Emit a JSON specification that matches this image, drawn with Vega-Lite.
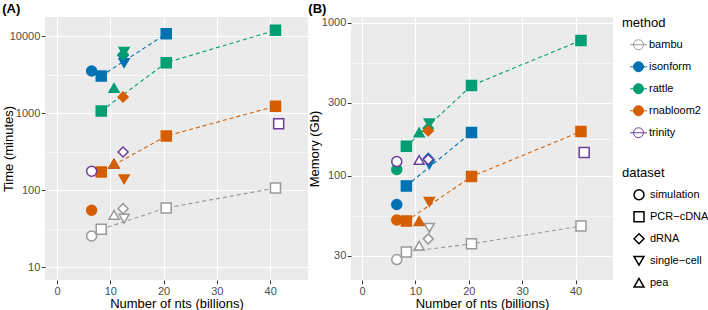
{
  "$schema": "https://vega.github.io/schema/vega-lite/v6.json",
  "padding": {"left": 2, "top": 2, "right": 0, "bottom": 0},
  "datasets": {
    "d": [
      {"method": "bambu", "dataset": "simulation", "nts": 6.5, "time": 25.5, "memory": 28.4},
      {"method": "bambu", "dataset": "PCR-cDNA", "nts": 8.3, "time": 31.2, "memory": 31.9},
      {"method": "bambu", "dataset": "PCR-cDNA", "nts": 20.5, "time": 59, "memory": 36},
      {"method": "bambu", "dataset": "PCR-cDNA", "nts": 41.0, "time": 107, "memory": 47},
      {"method": "bambu", "dataset": "dRNA", "nts": 12.4, "time": 57.7, "memory": 38.8},
      {"method": "bambu", "dataset": "single-cell", "nts": 12.6, "time": 42.8, "memory": 45.8},
      {"method": "bambu", "dataset": "pea", "nts": 10.7, "time": 48, "memory": 35},
      {"method": "isonform", "dataset": "simulation", "nts": 6.5, "time": 3540, "memory": 65},
      {"method": "isonform", "dataset": "PCR-cDNA", "nts": 8.3, "time": 3050, "memory": 86},
      {"method": "isonform", "dataset": "PCR-cDNA", "nts": 20.5, "time": 10800, "memory": 192},
      {"method": "isonform", "dataset": "dRNA", "nts": 12.4, "time": 5660, "memory": 130},
      {"method": "isonform", "dataset": "single-cell", "nts": 12.6, "time": 4500, "memory": 119},
      {"method": "rattle", "dataset": "simulation", "nts": 6.5, "time": null, "memory": 110},
      {"method": "rattle", "dataset": "PCR-cDNA", "nts": 8.3, "time": 1070, "memory": 156},
      {"method": "rattle", "dataset": "PCR-cDNA", "nts": 20.5, "time": 4540, "memory": 389},
      {"method": "rattle", "dataset": "PCR-cDNA", "nts": 41.0, "time": 11970, "memory": 767},
      {"method": "rattle", "dataset": "dRNA", "nts": 12.4, "time": 5800, "memory": 205},
      {"method": "rattle", "dataset": "single-cell", "nts": 12.6, "time": 6300, "memory": 220},
      {"method": "rattle", "dataset": "pea", "nts": 10.7, "time": 2130, "memory": 192},
      {"method": "rnabloom2", "dataset": "simulation", "nts": 6.5, "time": 55, "memory": 51.5},
      {"method": "rnabloom2", "dataset": "PCR-cDNA", "nts": 8.3, "time": 173, "memory": 50.7},
      {"method": "rnabloom2", "dataset": "PCR-cDNA", "nts": 20.5, "time": 507, "memory": 99},
      {"method": "rnabloom2", "dataset": "PCR-cDNA", "nts": 41.0, "time": 1234, "memory": 195},
      {"method": "rnabloom2", "dataset": "dRNA", "nts": 12.4, "time": 1630, "memory": 197},
      {"method": "rnabloom2", "dataset": "single-cell", "nts": 12.6, "time": 139, "memory": 67.6},
      {"method": "trinity", "dataset": "simulation", "nts": 6.5, "time": 177, "memory": 124},
      {"method": "trinity", "dataset": "PCR-cDNA", "nts": 41.6, "time": 733, "memory": 142},
      {"method": "trinity", "dataset": "dRNA", "nts": 12.4, "time": 314, "memory": 128},
      {"method": "trinity", "dataset": "pea", "nts": 10.7, "time": 221, "memory": 127},
      {"method": "rnabloom2", "dataset": "pea", "nts": 10.7, "time": 221, "memory": 50.7}
    ]
  },
  "config": {
    "font": "Liberation Sans",
    "view": {"fill": "#EBEBEB", "stroke": null},
    "axis": {"domain": false, "gridColor": "white", "tickColor": "#333333", "tickSize": 3.7, "labelColor": "#4D4D4D", "labelFontSize": 11, "labelPadding": 1.5, "titleFontSize": 13, "titleFontWeight": "normal", "titleColor": "black"},
    "legend": {"titleFontSize": 13, "titleFontWeight": "normal", "labelFontSize": 11, "titleColor": "black", "labelColor": "black"},
    "title": {"fontSize": 13, "fontWeight": "bold", "anchor": "start", "frame": "bounds", "offset": 1, "color": "black"}
  },
  "spacing": 0,
  "hconcat": [
    {
      "title": {"text": "(A)"},
      "width": 263,
      "height": 263,
      "data": {"name": "d"},
      "layer": [
        {
          "transform": [{"filter": "datum.dataset === 'PCR-cDNA'"}],
          "mark": {"type": "line", "strokeDash": [4, 3], "strokeWidth": 1.1},
          "encoding": {
            "x": {"field": "nts", "type": "quantitative", "scale": {"domain": [-2.25, 47.1], "nice": false, "zero": false}},
            "y": {"field": "time", "type": "quantitative", "scale": {"type": "log", "domain": [6.84, 17800], "nice": false}},
            "stroke": {"field": "method", "type": "nominal", "scale": {"domain": ["bambu", "isonform", "rattle", "rnabloom2", "trinity"], "range": ["#999999", "#0072B2", "#009E73", "#D55E00", "#6A3D9A"]}},
            "order": {"field": "nts", "type": "quantitative"}
          }
        },
        {
          "mark": {"type": "point", "size": 100, "strokeWidth": 1.5, "opacity": 1},
          "encoding": {
            "x": {"field": "nts", "type": "quantitative", "title": "Number of nts (billions)",
              "axis": {"values": [0, 5, 10, 15, 20, 25, 30, 35, 40, 45], "labelExpr": "datum.value % 10 === 0 ? datum.label : ''", "tickOpacity": {"condition": {"test": "datum.value % 10 === 0", "value": 1}, "value": 0}, "gridWidth": {"condition": {"test": "datum.value % 10 === 0", "value": 1.1}, "value": 0.5}, "titlePadding": 1.5}},
            "y": {"field": "time", "type": "quantitative", "title": "Time (minutes)",
              "axis": {"values": [10, 31.62, 100, 316.2, 1000, 3162, 10000], "format": "d", "labelExpr": "indexof([10, 100, 1000, 10000], datum.value) >= 0 ? datum.label : ''", "tickOpacity": {"condition": {"test": "indexof([10, 100, 1000, 10000], datum.value) >= 0", "value": 1}, "value": 0}, "gridWidth": {"condition": {"test": "indexof([10, 100, 1000, 10000], datum.value) >= 0", "value": 1.1}, "value": 0.5}, "titlePadding": -6}},
            "stroke": {"field": "method", "type": "nominal", "title": "method",
              "legend": {"orient": "none", "legendX": 577, "legendY": 0, "symbolType": "M-1.7,0H1.7M-1,0A1,1 0 1,1 1,0A1,1 0 1,1 -1,0Z", "symbolSize": 100, "symbolStrokeWidth": 1, "symbolOffset": 11, "labelOffset": 5, "clipHeight": 21.5, "rowPadding": 0, "titlePadding": 4,
                "encode": {"symbols": {"update": {"fill": {"scale": "stroke", "field": "value"}, "fillOpacity": {"value": 1}}}}}},
            "fill": {"field": "method", "type": "nominal", "scale": {"domain": ["bambu", "isonform", "rattle", "rnabloom2", "trinity"], "range": ["white", "#0072B2", "#009E73", "#D55E00", "white"]}, "legend": null},
            "shape": {"field": "dataset", "type": "nominal", "title": "dataset", "scale": {"domain": ["simulation", "PCR-cDNA", "dRNA", "single-cell", "pea"], "range": ["circle", "square", "diamond", "triangle-down", "triangle-up"]},
              "legend": {"orient": "none", "legendX": 577, "legendY": 150, "symbolSize": 100, "symbolStrokeWidth": 1.5, "symbolStrokeColor": "black", "symbolFillColor": "transparent", "symbolOffset": 11, "labelOffset": 5, "clipHeight": 21.5, "rowPadding": 0, "titlePadding": 4, "labelExpr": "replace(datum.label, '-', '\u2212')"}}
          }
        }
      ]
    },
    {
      "title": {"text": "(B)"},
      "width": 262,
      "height": 263,
      "data": {"name": "d"},
      "layer": [
        {
          "transform": [{"filter": "datum.dataset === 'PCR-cDNA'"}],
          "mark": {"type": "line", "strokeDash": [4, 3], "strokeWidth": 1.1},
          "encoding": {
            "x": {"field": "nts", "type": "quantitative", "scale": {"domain": [-2.07, 47.0], "nice": false, "zero": false}},
            "y": {"field": "memory", "type": "quantitative", "scale": {"type": "log", "domain": [20.9, 1090], "nice": false}},
            "stroke": {"field": "method", "type": "nominal"},
            "order": {"field": "nts", "type": "quantitative"}
          }
        },
        {
          "mark": {"type": "point", "size": 100, "strokeWidth": 1.5, "opacity": 1},
          "encoding": {
            "x": {"field": "nts", "type": "quantitative", "title": "Number of nts (billions)",
              "axis": {"values": [0, 5, 10, 15, 20, 25, 30, 35, 40, 45], "labelExpr": "datum.value % 10 === 0 ? datum.label : ''", "tickOpacity": {"condition": {"test": "datum.value % 10 === 0", "value": 1}, "value": 0}, "gridWidth": {"condition": {"test": "datum.value % 10 === 0", "value": 1.1}, "value": 0.5}, "titlePadding": 1.5}},
            "y": {"field": "memory", "type": "quantitative", "title": "Memory (Gb)",
              "axis": {"values": [30, 54.77, 100, 173.2, 300, 547.7, 1000], "format": "d", "labelExpr": "indexof([30, 100, 300, 1000], datum.value) >= 0 ? datum.label : ''", "tickOpacity": {"condition": {"test": "indexof([30, 100, 300, 1000], datum.value) >= 0", "value": 1}, "value": 0}, "gridWidth": {"condition": {"test": "indexof([30, 100, 300, 1000], datum.value) >= 0", "value": 1.1}, "value": 0.5}, "titlePadding": 0}},
            "stroke": {"field": "method", "type": "nominal"},
            "fill": {"field": "method", "type": "nominal", "legend": null},
            "shape": {"field": "dataset", "type": "nominal"}
          }
        }
      ]
    }
  ]
}
